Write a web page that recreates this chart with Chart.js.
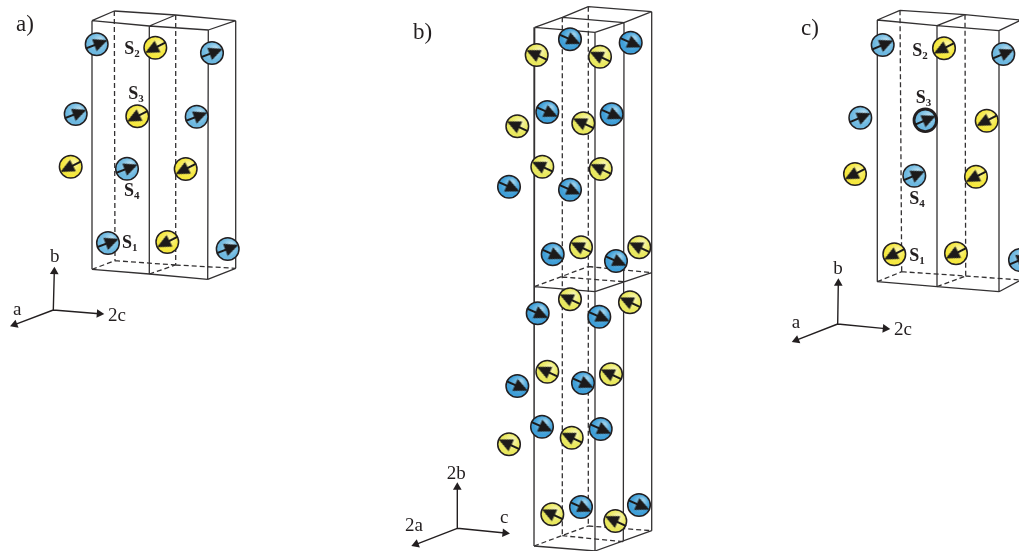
<!DOCTYPE html>
<html>
<head>
<meta charset="utf-8">
<style>html,body{margin:0;padding:0;background:#fff}canvas{display:block}</style>
<script src="https://cdn.jsdelivr.net/npm/chart.js@4"></script>
</head>
<body>
<canvas id="c" width="1019" height="551"></canvas>
<script>
// Atom centres (x, y in image units)
const aBlue = [[96.7,44.3],[212,53],[75.7,114],[196.7,116.7],[127,168.7],[108,243],[227.7,249]];
const aYellow = [[155.3,47.7],[137.3,116.3],[70.7,166.7],[185.7,169],[167.3,242]];
const bBlue = [[570,39.3],[630.7,42.7],[547.3,112],[611.7,114.3],[509,186.7],[570,189.7],[552.7,254.3],[616,261],
  [537.7,313.3],[599.3,316.7],[517.3,386],[583,383],[542,426.7],[600.7,429],[581,507],[639,505]];
const bYellow = [[536.7,55],[600,56.7],[517.3,126.3],[583.3,123.3],[542.3,166.7],[600.7,169],[581,247.3],[639.3,247.3],
  [570,299.3],[630,302.3],[547.3,371.7],[611,374.3],[571.7,437.7],[509,444.3],[552.3,514.3],[615.3,521]];
const cBlue = [[882.7,45],[1003.3,54],[860.3,117.7],[925.3,120.3],[914.3,175.7],[1020,260]];
const cYellow = [[944,48.3],[986.7,120.7],[855,174],[976,176.7],[894.3,254.3],[956,253.3]];

// Arrow directions in degrees, clockwise from pointing right
const aBlueAngle = -21, aYellowAngle = 153;
const bBlueAngle = 24, bYellowAngle = 205;
const cBlueAngle = -23, cYellowAngle = 153;

// Cell edges [x1,y1,x2,y2]
const aSolid = [[92,20.7,149.3,26],[149.3,26,208.3,30],[92,20.7,114.3,11],[114.3,11,175.7,15],[175.7,15,235.7,20.7],
  [149.3,26,175.7,15],[208.3,30,235.7,20.7],[92,20.7,92,269.3],[149.3,26,149.3,274],[208.3,30,207.7,279.3],[235.7,20.7,235.7,268.3],
  [92,269.3,149.3,274],[149.3,274,207.7,279.3],[207.7,279.3,235.7,268.3]];
const aDashed = [[114.3,11,115,260.7],[175.7,15,175.7,265],[92,269.3,115,260.7],[149.3,274,175.7,265],[115,260.7,175.7,265],[175.7,265,235.7,268.3]];
const bSolid = [[534.7,27.3,595,32.3],[534.7,27.3,562.3,17.3],[562.3,17.3,588.3,6.7],[588.3,6.7,651.7,11.7],[595,32.3,624,22.7],[624,22.7,651.7,11.7],[562.3,17.3,624,22.7],
  [534.7,27.3,534,546],[595,32.3,595,551],[624,22.7,623.3,541.7],[651.7,11.7,651.7,530.7],
  [534.3,286.7,595,291.7],[595,291.7,651.7,272.7],[534,546,595,551],[595,551,651.7,530.7]];
const bDashed = [[562.3,17.3,562.3,535.7],[588.3,6.7,588.3,526],[534.3,286.7,588.3,266.5],[562.3,277,624,281.7],[588.3,266.5,651.7,272.7],
  [534,546,588.3,526],[562.3,535.7,623.3,541.7],[588.3,526,651.7,530.7]];
const cSolid = [[877.3,20,937,25.7],[937,25.7,999,30.7],[877.3,20,900,10.3],[900,10.3,965,14.7],[965,14.7,1021,20],[937,25.7,965,14.7],[999,30.7,1021,20],
  [877.3,20,877.3,281.7],[937,25.7,937,286.7],[999,30.7,999,291.7],[877.3,281.7,937,286.7],[937,286.7,999,291.7],[999,291.7,1021,280]];
const cDashed = [[900,10.3,901.7,271.7],[965,14.7,965.7,276],[877.3,281.7,901.7,271.7],[937,286.7,965.7,276],[901.7,271.7,965.7,276],[965.7,276,1021,280]];

// Axis triads: origin then arrowhead centre [x1,y1,x2,y2]
const triads = [[53.3,310,54.3,271.7],[53.3,310,99.3,313.7],[53.3,310,14.7,324.6],
  [457.3,528.3,457.3,487.3],[457.3,528.3,505,533],[457.3,528.3,416,544.3],
  [837.7,324,838.3,283.3],[837.7,324,885.3,328.6],[837.7,324,796.4,340.2]];

// Text: [text, subscript, x, y]
const panelLabels = [["a)",16,31],["b)",413,39],["c)",801,35]];
const axisLabels = [["b",50,262],["2c",108,321],["a",13,315],
  ["2b",446.7,479.3],["c",500,523],["2a",405,530.7],
  ["b",833.3,274],["2c",894,335],["a",791.7,328]];
const siteLabels = [["S","2",124.3,54],["S","3",128.3,99],["S","4",124,196],["S","1",122,248],
  ["S","2",912.3,55.7],["S","3",915.7,103],["S","4",909.3,204],["S","1",909.3,261]];

const ink = '#231f20';
const serif = '"Liberation Serif", serif';
const pts = list => list.map(p => ({x: p[0], y: p[1]}));
const segs = list => list.flatMap(s => [{x:s[0],y:s[1]},{x:s[2],y:s[3]},{x:null,y:null}]);

// Arrow glyph used as the point style (points right; rotated by the library)
const arrow = document.createElement('canvas');
arrow.width = 28; arrow.height = 28;
(function () {
  const g = arrow.getContext('2d');
  g.fillStyle = '#1c1a1a'; g.strokeStyle = '#1c1a1a'; g.lineWidth = 2;
  g.beginPath(); g.moveTo(2.5,14); g.lineTo(13,14); g.stroke();
  g.beginPath(); g.moveTo(25.5,14); g.lineTo(11.5,7.5); g.lineTo(11.5,20.5); g.closePath(); g.fill();
})();

function atomFill(base, light) {
  return function (ctx) {
    if (!ctx.raw) return base;
    const c = ctx.chart, x = c.scales.x.getPixelForValue(ctx.raw.x), y = c.scales.y.getPixelForValue(ctx.raw.y);
    if (!isFinite(x) || !isFinite(y)) return base;
    const g = c.ctx.createRadialGradient(x + 4, y - 5, 1, x, y, 12);
    g.addColorStop(0, light); g.addColorStop(0.75, base); g.addColorStop(1, base);
    return g;
  };
}
function atoms(list, base, light, border) {
  return {data: pts(list), order: 1, clip: false, showLine: false, pointStyle: 'circle', pointRadius: 11.3,
    pointBackgroundColor: atomFill(base, light), pointBorderColor: ink, pointBorderWidth: border || 1.5};
}
function arrows(list, angle) {
  return {data: pts(list), order: 0, clip: false, showLine: false, pointStyle: arrow, pointRadius: 12, pointRotation: angle};
}
function edges(list, dashed) {
  return {data: segs(list), order: 2, clip: false, showLine: true, spanGaps: false, pointRadius: 0,
    borderColor: '#333132', borderWidth: 1.3, borderDash: dashed ? [5,3] : []};
}

const textPlugin = {
  id: 'texts',
  afterDatasetsDraw(chart) {
    const g = chart.ctx, sx = chart.scales.x, sy = chart.scales.y;
    g.save(); g.fillStyle = ink; g.textAlign = 'left'; g.textBaseline = 'alphabetic';
    g.font = '23px ' + serif;
    panelLabels.forEach(t => g.fillText(t[0], sx.getPixelForValue(t[1]), sy.getPixelForValue(t[2])));
    g.font = '19px ' + serif;
    axisLabels.forEach(t => g.fillText(t[0], sx.getPixelForValue(t[1]), sy.getPixelForValue(t[2])));
    siteLabels.forEach(t => {
      const x = sx.getPixelForValue(t[2]), y = sy.getPixelForValue(t[3]);
      g.font = 'bold 18px ' + serif; g.fillText(t[0], x, y);
      const w = g.measureText(t[0]).width;
      g.font = 'bold 11px ' + serif; g.fillText(t[1], x + w, y + 3);
    });
    g.restore();
  }
};

new Chart(document.getElementById('c'), {
  type: 'scatter',
  data: {datasets: [
    arrows(aBlue, aBlueAngle), arrows(aYellow, aYellowAngle),
    arrows(bBlue, bBlueAngle), arrows(bYellow, bYellowAngle),
    arrows(cBlue, cBlueAngle), arrows(cYellow, cYellowAngle),
    atoms(aBlue, '#6db8e0', '#b4dcf0'), atoms(aYellow, '#f5e83f', '#faf49a'),
    atoms(bBlue, '#3f9fd8', '#9acfea'), atoms(bYellow, '#e9e85e', '#f8f6b0'),
    atoms(cBlue, '#6db8e0', '#b4dcf0', [1.5,1.5,1.5,2.8,1.5,1.5]), atoms(cYellow, '#f5e83f', '#faf49a'),
    edges(aSolid, false), edges(aDashed, true),
    edges(bSolid, false), edges(bDashed, true),
    edges(cSolid, false), edges(cDashed, true),
    {data: segs(triads), order: 2, clip: false, showLine: true, spanGaps: false, borderColor: ink, borderWidth: 1.4,
     pointStyle: 'triangle', pointBackgroundColor: ink, pointBorderColor: ink, pointBorderWidth: 0,
     pointRadius: c => c.dataIndex % 3 === 1 ? 5 : 0,
     pointRotation: c => {
       if (c.dataIndex % 3 !== 1) return 0;
       const d = c.dataset.data, a = d[c.dataIndex - 1], b = d[c.dataIndex];
       return Math.atan2(b.y - a.y, b.x - a.x) * 180 / Math.PI + 90;
     }}
  ]},
  options: {
    responsive: false, animation: false, events: [],
    layout: {padding: 0, autoPadding: false},
    plugins: {legend: {display: false}, tooltip: {enabled: false}, title: {display: false}},
    scales: {
      x: {type: 'linear', min: 0, max: 1019, display: false},
      y: {type: 'linear', min: 0, max: 551, reverse: true, display: false}
    }
  },
  plugins: [textPlugin]
});
</script>
</body>
</html>
